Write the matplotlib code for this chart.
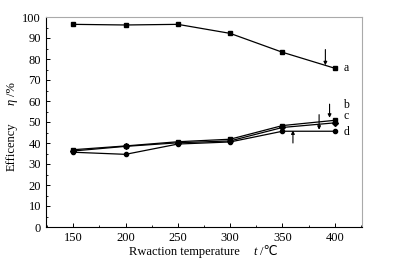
import matplotlib
matplotlib.use("Agg")
import matplotlib.pyplot as plt
from matplotlib.ticker import MultipleLocator

plt.rcParams['font.family'] = ['Liberation Serif', 'DejaVu Sans']

temps = [150, 200, 250, 300, 350, 400]
eff_a = [96.5, 96.2, 96.5, 92.2, 83.2, 75.6]
eff_b = [36.8, 38.6, 40.6, 41.8, 48.3, 50.8]
eff_c = [36.2, 38.4, 40.1, 41.0, 47.4, 49.6]
eff_d = [35.6, 34.6, 39.5, 40.5, 45.6, 45.6]
series_names = ['a', 'b', 'c', 'd']
label_y = [75.5, 58.0, 53.0, 45.3]

# arrows: (x, y_tail, y_head)
arrows = [(391, 84.5, 77.0), (395, 58.5, 52.0), (385, 53.5, 46.3), (360, 40.0, 46.0)]

W, H = 395, 266
fig = plt.figure(figsize=(W / 100, H / 100), dpi=100)
ax = fig.add_axes([46 / W, 1 - 227 / H, 316 / W, 210 / H])

ax.plot(temps, eff_a, 'k-', marker='s', ms=3.3, lw=0.9)
ax.plot(temps, eff_b, 'k-', marker='s', ms=3.3, lw=0.9)
ax.plot(temps, eff_c, 'k-', marker='D', ms=3.0, lw=0.9)
ax.plot(temps, eff_d, 'k-', marker='o', ms=3.0, lw=0.9)

for x, y0, y1 in arrows:
    ax.annotate('', xy=(x, y1), xytext=(x, y0),
                arrowprops=dict(arrowstyle='-|>', color='k', lw=0.8,
                                mutation_scale=5, shrinkA=0, shrinkB=0))

for name, y in zip(series_names, label_y):
    ax.text(408, y, name, fontsize=8.5, va='center', ha='left')

ax.set_xlim(124, 426)
ax.set_ylim(0, 100)
ax.xaxis.set_major_locator(MultipleLocator(50))
ax.xaxis.set_minor_locator(MultipleLocator(25))
ax.yaxis.set_major_locator(MultipleLocator(10))
ax.yaxis.set_minor_locator(MultipleLocator(5))
ax.tick_params(direction='in', labelsize=9, length=3, width=0.7, top=False, right=False)
ax.tick_params(which='minor', direction='in', length=1.5, width=0.6, top=False, right=False)

for s in ['top', 'right']:
    ax.spines[s].set_color('#aaaaaa')
for s in ax.spines.values():
    s.set_linewidth(0.8)

# axis titles built from pieces so the italic symbols and the degree sign render
fig.text(129 / W, 1 - 252 / H, 'Rwaction temperature', fontsize=9, ha='left', va='center')
fig.text(253 / W, 1 - 252 / H, 't', fontsize=9, style='italic', ha='left', va='center')
fig.text(260 / W, 1 - 252 / H, '/\u2103', fontsize=9, ha='left', va='center')

fig.text(12 / W, 1 - 147 / H, 'Efficency', fontsize=9, rotation=90, ha='center', va='center')
fig.text(12 / W, 1 - 102 / H, '\u03b7', fontsize=9, style='italic', rotation=90, ha='center', va='center')
fig.text(12 / W, 1 - 89 / H, '/%', fontsize=9, rotation=90, ha='center', va='center')

fig.savefig('out.png', dpi=100)
